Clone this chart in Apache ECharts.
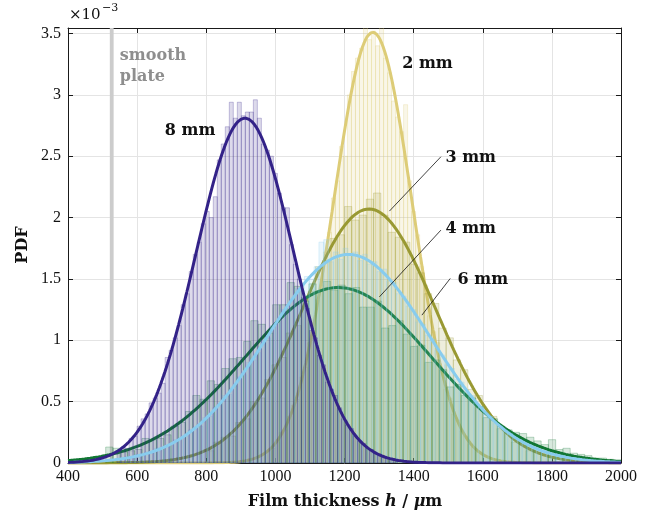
<!DOCTYPE html>
<html>
<head>
<meta charset="utf-8">
<script src="https://cdn.jsdelivr.net/npm/echarts@6/dist/echarts.min.js"></script>
<style>
  html, body { margin: 0; padding: 0; background: #ffffff; }
  #chart { width: 651px; height: 516px; }
</style>
</head>
<body>
<div id="chart"></div>
<script>
// Film thickness distributions (PDF in units of 1e-3 per µm) for several groove depths,
// each drawn as a translucent histogram with its fitted normal curve.

const xTicks = [400, 600, 800, 1000, 1200, 1400, 1600, 1800, 2000];
const yTicks = [0, 0.5, 1, 1.5, 2, 2.5, 3, 3.5];

const depths = ['2 mm', '3 mm', '4 mm', '6 mm', '8 mm'];

// histogram layout per depth: first bin edge and bin width (µm)
const binStart = [976.6, 801, 509, 552, 541.9];
const binWidth = [11.6, 21, 21, 14, 11.6];

// bin heights (PDF ×10⁻³)
const hist2mm = [
  0.10, 0.12, 0.17, 0.25, 0.27, 0.38, 0.47, 0.52, 0.70, 0.78,
  0.98, 1.10, 1.33, 1.45, 1.72, 1.88, 2.16, 2.30, 2.58, 2.50,
  3.00, 3.19, 3.30, 3.38,
  3.62, 3.45, 3.52, 3.40, 3.62, 3.30, 3.18, 2.95, 2.82, 2.70,
  2.92, 2.30, 2.05, 1.86, 1.60, 1.45, 1.20, 1.07, 0.98, 0.76,
  0.60, 0.53, 0.40, 0.35, 0.26, 0.22, 0.15, 0.13, 0.09
];
const hist3mm = [
  0.10, 0.17, 0.21, 0.22, 0.33, 0.36, 0.50, 0.53, 0.68, 0.80,
  0.86, 1.06, 1.12, 1.33, 1.40, 1.60, 1.65, 1.83, 1.86, 2.09,
  1.98, 2.02, 2.15,
  2.20, 2.02, 1.88, 1.84, 1.80, 1.62, 1.55, 1.38, 1.30, 1.10,
  1.02, 0.84, 0.76, 0.60, 0.55, 0.42, 0.38, 0.28, 0.25, 0.17,
  0.15, 0.10, 0.09, 0.06, 0.05
];
const hist4mm = [
  0.13, 0.12, 0.09, 0.10, 0.11, 0.20, 0.19, 0.20, 0.23, 0.30,
  0.33, 0.42, 0.55, 0.52, 0.67, 0.64, 0.77, 0.85, 0.86, 0.99,
  1.16, 1.13, 1.06, 1.29, 1.29, 1.47, 1.44, 1.32, 1.46, 1.40,
  1.48, 1.41, 1.45, 1.38, 1.43, 1.27, 1.27, 1.32, 1.10, 1.12,
  1.16, 1.05, 0.95, 0.96, 0.82, 0.84, 0.76, 0.62, 0.64, 0.55,
  0.53, 0.46, 0.37, 0.36, 0.30, 0.27, 0.25, 0.24, 0.21, 0.18,
  0.15, 0.19, 0.11, 0.12, 0.08, 0.07, 0.06, 0.04, 0.04, 0.03
];
const hist6mm = [
  0.04, 0.05, 0.04, 0.07, 0.06, 0.09, 0.08, 0.12, 0.10, 0.14,
  0.15, 0.19, 0.20, 0.22, 0.27, 0.28, 0.30, 0.37, 0.38, 0.45,
  0.47, 0.55, 0.56, 0.62, 0.70, 0.72, 0.82, 0.84, 0.90, 1.00,
  1.02, 1.12, 1.14, 1.25, 1.26, 1.32, 1.42, 1.40, 1.52, 1.50,
  1.60, 1.80, 1.82, 1.64, 1.72, 1.66, 1.75, 1.70, 1.72, 1.65,
  1.70, 1.62, 1.64, 1.56, 1.58, 1.48, 1.47, 1.38, 1.36, 1.28,
  1.25, 1.15, 1.13, 1.04, 1.01, 0.92, 0.88, 0.80, 0.77, 0.68,
  0.66, 0.58, 0.55, 0.49, 0.46, 0.40, 0.38, 0.32, 0.30, 0.26,
  0.24, 0.20, 0.19, 0.16, 0.15, 0.12, 0.11, 0.09, 0.08, 0.07,
  0.06, 0.05, 0.04, 0.04, 0.03, 0.03
];
const hist8mm = [
  0.10, 0.13, 0.12, 0.20, 0.22, 0.30, 0.36, 0.40, 0.49, 0.53,
  0.57, 0.65, 0.86, 0.92, 1.02, 1.12, 1.29, 1.38, 1.56, 1.70,
  1.80, 1.95, 2.05, 2.00, 2.17, 2.47, 2.60, 2.74,
  2.94, 2.81, 2.94, 2.83, 2.86, 2.86, 2.96, 2.81,
  2.60, 2.55, 2.50, 2.36, 2.20, 2.08, 2.08, 1.78, 1.62, 1.50,
  1.35, 1.26, 1.08, 1.02, 0.88, 0.80, 0.66, 0.60, 0.55, 0.45,
  0.36, 0.31, 0.28, 0.22, 0.18, 0.16, 0.12, 0.11, 0.08, 0.07,
  0.05, 0.04, 0.03, 0.02
];
const histValues = [hist2mm, hist3mm, hist4mm, hist6mm, hist8mm];

// normal fits: mean (µm), standard deviation (µm), peak PDF (×10⁻³)
const fitMean = [1282, 1271, 1182, 1212, 912];
const fitSigma = [113.6, 192.7, 268, 235, 142];
const fitPeak = [3.51, 2.07, 1.43, 1.70, 2.81];

// reference measurement on the smooth plate: one narrow bin
const smoothPlateBin = [521, 532];
const smoothPlatePdf = 60;

const colors = ['#DDCC77', '#999933', '#117733', '#88CCEE', '#332288'];
const SERIF = '"Liberation Serif", "DejaVu Serif", serif';
const BOLDSERIF = '"DejaVu Serif", "Liberation Serif", serif';

function rgba(hex, a) {
  const n = parseInt(hex.slice(1), 16);
  return `rgba(${(n >> 16) & 255},${(n >> 8) & 255},${n & 255},${a})`;
}

function histogramSeries(idx, z) {
  const w = binWidth[idx];
  const data = histValues[idx].map((v, i) => [binStart[idx] + i * w, binStart[idx] + (i + 1) * w, v]);
  const col = colors[idx];
  return {
    type: 'custom',
    name: depths[idx] + ' histogram',
    coordinateSystem: 'cartesian2d',
    clip: true,
    silent: true,
    z: z,
    encode: { x: [0, 1], y: 2 },
    data: data,
    renderItem: function (params, api) {
      const p0 = api.coord([api.value(0), api.value(2)]);
      const p1 = api.coord([api.value(1), 0]);
      return {
        type: 'rect',
        shape: { x: p0[0], y: p0[1], width: p1[0] - p0[0], height: p1[1] - p0[1] },
        style: { fill: rgba(col, 0.17), stroke: rgba(col, 0.38), lineWidth: 0.7 }
      };
    }
  };
}

function fitSeries(idx, z) {
  const pts = [];
  for (let x = xTicks[0]; x <= xTicks[xTicks.length - 1]; x += 4) {
    const u = (x - fitMean[idx]) / fitSigma[idx];
    pts.push([x, fitPeak[idx] * Math.exp(-0.5 * u * u)]);
  }
  return {
    type: 'line',
    name: depths[idx] + ' fit',
    data: pts,
    showSymbol: false,
    symbol: 'none',
    clip: true,
    silent: true,
    z: z,
    lineStyle: { color: colors[idx], width: 3 }
  };
}

const smoothSeries = {
  type: 'custom',
  name: 'smooth plate',
  clip: true,
  silent: true,
  z: 1,
  encode: { x: [0, 1], y: 2 },
  data: [[smoothPlateBin[0], smoothPlateBin[1], smoothPlatePdf]],
  renderItem: function (params, api) {
    const p0 = api.coord([api.value(0), api.value(2)]);
    const p1 = api.coord([api.value(1), 0]);
    return {
      type: 'rect',
      shape: { x: p0[0], y: p0[1], width: p1[0] - p0[0], height: p1[1] - p0[1] },
      style: { fill: '#cccccc' }
    };
  }
};

// depth labels with their leader lines
const labelFont = { fontFamily: BOLDSERIF, fontWeight: 'bold', fontSize: 16, fill: '#111111' };
const annotations = {
  type: 'custom',
  name: 'labels',
  silent: true,
  z: 30,
  encode: { x: 0, y: 1 },
  data: [
    { value: [1367, 3.25], text: depths[0] },
    { value: [1492, 2.49], text: depths[1], lead: [1479, 2.496, 1330, 2.053] },
    { value: [1492, 1.906], text: depths[2], lead: [1479, 1.898, 1301, 1.354] },
    { value: [1527, 1.49], text: depths[3], lead: [1506, 1.504, 1424, 1.205] },
    { value: [680, 2.705], text: depths[4] }
  ],
  renderItem: function (params, api) {
    const item = annotations.data[params.dataIndex];
    const p = api.coord(item.value);
    const children = [{
      type: 'text',
      x: p[0], y: p[1],
      style: Object.assign({ text: item.text, textAlign: 'left', textVerticalAlign: 'middle' }, labelFont)
    }];
    if (item.lead) {
      const a = api.coord([item.lead[0], item.lead[1]]);
      const b = api.coord([item.lead[2], item.lead[3]]);
      children.push({
        type: 'line',
        shape: { x1: a[0], y1: a[1], x2: b[0], y2: b[1] },
        style: { stroke: '#111111', lineWidth: 0.8 }
      });
    }
    return { type: 'group', children: children };
  }
};

const smoothLabel = {
  type: 'custom',
  name: 'smooth plate label',
  silent: true,
  z: 30,
  encode: { x: 0, y: 1 },
  data: [[550, 3.407]],
  renderItem: function (params, api) {
    const p = api.coord([api.value(0), api.value(1)]);
    return {
      type: 'text',
      x: p[0], y: p[1],
      style: {
        text: 'smooth\nplate', fontFamily: BOLDSERIF, fontWeight: 'bold', fontSize: 16,
        lineHeight: 21, fill: '#8e8e8e', textAlign: 'left', textVerticalAlign: 'top'
      }
    };
  }
};

const chart = echarts.init(document.getElementById('chart'), null, { renderer: 'canvas' });

const axisCommon = {
  axisLine: { show: true, onZero: false, lineStyle: { color: '#1a1a1a', width: 1 } },
  axisTick: { show: true, inside: true, length: 5, lineStyle: { color: '#1a1a1a', width: 1 } }
};

chart.setOption({
  animation: false,
  backgroundColor: '#ffffff',
  grid: { left: 68, right: 30, top: 28, bottom: 53, containLabel: false },
  xAxis: [
    Object.assign({
      type: 'value', position: 'bottom',
      min: xTicks[0], max: xTicks[xTicks.length - 1], interval: 200,
      axisLabel: {
        color: '#111111', fontFamily: SERIF, fontSize: 16, margin: 6,
        formatter: function (v) { return String(v); }
      },
      splitLine: { show: true, lineStyle: { color: '#e4e4e4', width: 1 } }
    }, axisCommon),
    Object.assign({
      type: 'value', position: 'top',
      min: xTicks[0], max: xTicks[xTicks.length - 1], interval: 200,
      axisLabel: { show: false }, splitLine: { show: false }
    }, axisCommon)
  ],
  yAxis: [
    Object.assign({
      type: 'value', position: 'left',
      min: 0, max: 3.545, interval: 0.5,
      axisLabel: {
        color: '#111111', fontFamily: SERIF, fontSize: 16, margin: 7,
        formatter: function (v) { return yTicks.indexOf(v) >= 0 ? String(v) : ''; }
      },
      splitLine: { show: true, lineStyle: { color: '#e4e4e4', width: 1 } }
    }, axisCommon),
    Object.assign({
      type: 'value', position: 'right',
      min: 0, max: 3.545, interval: 0.5,
      axisLabel: { show: false }, splitLine: { show: false }
    }, axisCommon)
  ],
  series: [
    smoothSeries,
    histogramSeries(0, 2), fitSeries(0, 3),
    histogramSeries(1, 4), fitSeries(1, 5),
    histogramSeries(2, 6), fitSeries(2, 7),
    histogramSeries(3, 8),
    histogramSeries(4, 9),
    fitSeries(3, 10),
    fitSeries(4, 11),
    annotations,
    smoothLabel
  ],
  graphic: [
    { type: 'text', left: 69, top: 8,
      style: { text: '×10', fontFamily: '"DejaVu Serif", serif', fontSize: 15, fill: '#111111' } },
    { type: 'text', left: 102, top: 3,
      style: { text: '−3', fontFamily: '"DejaVu Serif", serif', fontSize: 11, fill: '#111111' } },
    { type: 'text', x: 23, y: 245, rotation: Math.PI / 2,
      style: { text: 'PDF', fontFamily: BOLDSERIF, fontWeight: 'bold', fontSize: 16, fill: '#111111',
               textAlign: 'center', textVerticalAlign: 'middle' } },
    { type: 'text', x: 345, y: 502,
      style: {
        text: '{b|Film thickness }{i|h}{b| / }{i|μ}{b|m}',
        textAlign: 'center', textVerticalAlign: 'middle',
        rich: {
          b: { fontFamily: BOLDSERIF, fontWeight: 'bold', fontSize: 16, fill: '#111111' },
          i: { fontFamily: BOLDSERIF, fontWeight: 'bold', fontStyle: 'italic', fontSize: 16, fill: '#111111' }
        }
      } }
  ]
});
</script>
</body>
</html>
